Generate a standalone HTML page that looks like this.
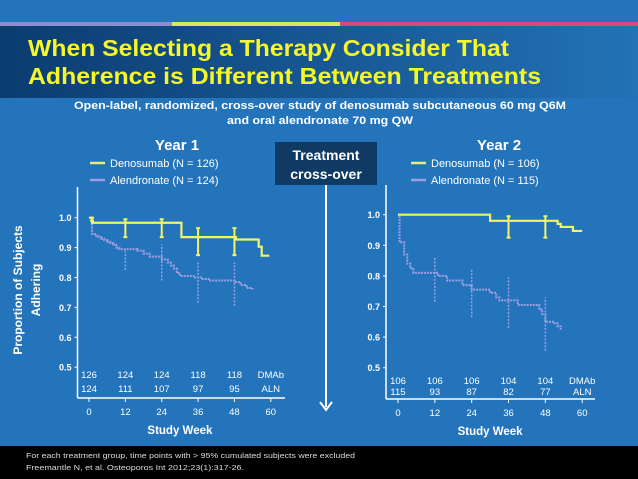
<!DOCTYPE html>
<html><head><meta charset="utf-8"><style>
html,body{margin:0;padding:0}
body{width:638px;height:479px;overflow:hidden;background:#2474bc;font-family:"Liberation Sans",sans-serif;position:relative}
</style></head><body>
<svg width="638" height="479" xmlns="http://www.w3.org/2000/svg" style="position:absolute;left:0;top:0" font-family="Liberation Sans, sans-serif">
<defs><linearGradient id="tg" x1="0" x2="1" y1="0" y2="0"><stop offset="0" stop-color="#0b3c70"/><stop offset="1" stop-color="#2372b6"/></linearGradient></defs>
<rect x="0" y="0" width="638" height="479" fill="#2474bc"/>
<rect x="0" y="22" width="172" height="4" fill="#8d8ed0"/>
<rect x="172" y="22" width="168" height="4" fill="#d9e85a"/>
<rect x="340" y="22" width="298" height="4" fill="#d9487a"/>
<rect x="0" y="26" width="638" height="72" fill="url(#tg)"/>
<text x="28" y="56" font-size="23" font-weight="bold" fill="#f4f72a" textLength="481" lengthAdjust="spacingAndGlyphs">When Selecting a Therapy Consider That</text>
<text x="28" y="84" font-size="23" font-weight="bold" fill="#f4f72a" textLength="513" lengthAdjust="spacingAndGlyphs">Adherence is Different Between Treatments</text>
<text x="74" y="109" font-size="11" font-weight="bold" fill="#fff" textLength="492" lengthAdjust="spacingAndGlyphs">Open-label, randomized, cross-over study of denosumab subcutaneous 60 mg Q6M</text>
<text x="227" y="124" font-size="11" font-weight="bold" fill="#fff" textLength="186" lengthAdjust="spacingAndGlyphs">and oral alendronate 70 mg QW</text>
<rect x="275" y="142" width="102" height="43" fill="#0e3a64"/>
<text x="326" y="160" font-size="14" font-weight="bold" fill="#fff" text-anchor="middle">Treatment</text>
<text x="326" y="179" font-size="14" font-weight="bold" fill="#fff" text-anchor="middle">cross-over</text>
<line x1="326" y1="185" x2="326" y2="407" stroke="#fff" stroke-width="2"/>
<path d="M320 402 L326 410 L332 402" fill="none" stroke="#fff" stroke-width="2"/>
<text transform="translate(22,290) rotate(-90)" font-size="12" font-weight="bold" fill="#fff" text-anchor="middle">Proportion of Subjects</text>
<text transform="translate(40,290) rotate(-90)" font-size="12" font-weight="bold" fill="#fff" text-anchor="middle">Adhering</text>
<rect x="0" y="446" width="638" height="33" fill="#000"/>
<text x="26" y="458" font-size="7.5" fill="#ddd" textLength="329" lengthAdjust="spacingAndGlyphs">For each treatment group, time points with &gt; 95% cumulated subjects were excluded</text>
<text x="26" y="470" font-size="7.5" fill="#ddd" textLength="218" lengthAdjust="spacingAndGlyphs">Freemantle N, et al. Osteoporos Int 2012;23(1):317-26.</text>
<g id="charts"></g>
</svg>
<script>
const ns="http://www.w3.org/2000/svg";
const root=document.getElementById('charts');
const xTicks=[0,12,24,36,48,60];
const yTicks=[0.5,0.6,0.7,0.8,0.9,1.0];
// Year 1
const y1DmabWeeks=[0,1,30.5,48.5,56,57,59.5];
const y1DmabVals=[1.0,0.983,0.935,0.927,0.903,0.873,0.873];
const y1AlnWeeks=[0,1,2,3,4,5,6,7,8,9,10,16,18,20,24,26,27,28,29,30,35,37,40,48,50,52,54];
const y1AlnVals=[1.0,0.945,0.94,0.935,0.93,0.925,0.92,0.915,0.91,0.9,0.895,0.89,0.88,0.87,0.86,0.85,0.84,0.83,0.815,0.805,0.8,0.795,0.79,0.785,0.775,0.765,0.76];
const y1DmabErrWeeks=[1,12,24,36,48];
const y1DmabErrLo=[0.99,0.935,0.935,0.875,0.875];
const y1DmabErrHi=[1.0,0.995,0.995,0.965,0.965];
const y1AlnErrWeeks=[12,24,36,48];
const y1AlnErrLo=[0.825,0.79,0.715,0.705];
const y1AlnErrHi=[0.895,0.91,0.855,0.85];
const y1RiskDmab=["126","124","124","118","118"];
const y1RiskAln=["124","111","107","97","95"];
// Year 2
const y2DmabWeeks=[0,30,52,53,57,60];
const y2DmabVals=[1.0,0.98,0.97,0.96,0.947,0.947];
const y2AlnWeeks=[0,0.5,2,3,4,5,13,16,21,24,30,32,33,39,46,47,48,51,52,53];
const y2AlnVals=[1.0,0.91,0.87,0.84,0.825,0.81,0.8,0.785,0.77,0.755,0.745,0.73,0.72,0.705,0.69,0.675,0.65,0.645,0.635,0.625];
const y2DmabErrWeeks=[36,48];
const y2DmabErrLo=[0.925,0.925];
const y2DmabErrHi=[0.995,0.995];
const y2AlnErrWeeks=[12,24,36,48];
const y2AlnErrLo=[0.715,0.665,0.63,0.555];
const y2AlnErrHi=[0.86,0.825,0.795,0.73];
const y2RiskDmab=["106","106","106","104","104"];
const y2RiskAln=["115","93","87","82","77"];

function mk(tag,attrs,parent){const e=document.createElementNS(ns,tag);for(const k in attrs)e.setAttribute(k,attrs[k]);(parent||root).appendChild(e);return e;}
function txt(s,attrs){const e=mk('text',attrs);e.textContent=s;return e;}

function chart(cfg){
  const g=mk('g',{});
  
  
  const X=w=>cfg.x0+w*cfg.xs;
  const Y=v=>cfg.y1+(1-v)*cfg.ys*100;
  const ya=mk('line',{x1:cfg.ax,y1:cfg.atop,x2:cfg.ax,y2:cfg.ab,stroke:'#fff','stroke-width':1.5},g);
  
  const xa=mk('line',{x1:cfg.ax,y1:cfg.ab,x2:cfg.axr,y2:cfg.ab,stroke:'#fff','stroke-width':1.5},g);
  
  yTicks.forEach(t=>{
    mk('line',{x1:cfg.ax-3,y1:Y(t),x2:cfg.ax,y2:Y(t),stroke:'#fff'},g);
    const l=txt(t.toFixed(1),{x:cfg.ax-6,y:Y(t)+3.5,'font-size':9,'font-weight':'bold',fill:'#fff','text-anchor':'end'});
    
  });
  xTicks.forEach(t=>{
    mk('line',{x1:X(t),y1:cfg.ab,x2:X(t),y2:cfg.ab+4,stroke:'#fff'},g);
    const l=txt(String(t),{x:X(t),y:cfg.ab+17,'font-size':9.5,fill:'#fff','text-anchor':'middle'});
    
  });
  const xt=txt('Study Week',{x:X(30),y:cfg.ab+36,'font-size':11.5,'font-weight':'bold',fill:'#fff','text-anchor':'middle'});
  
  cfg.rd.forEach((s,i)=>{const l=txt(s,{x:X(xTicks[i]),y:cfg.r1,'font-size':9.5,fill:'#fff','text-anchor':'middle'});});
  cfg.ra.forEach((s,i)=>{const l=txt(s,{x:X(xTicks[i]),y:cfg.r2,'font-size':9.5,fill:'#fff','text-anchor':'middle'});});
  txt('DMAb',{x:X(60),y:cfg.r1,'font-size':9.5,fill:'#fff','text-anchor':'middle'});
  txt('ALN',{x:X(60),y:cfg.r2,'font-size':9.5,fill:'#fff','text-anchor':'middle'});
  function step(ws,vs){let d='M'+X(ws[0])+' '+Y(vs[0]);for(let i=1;i<ws.length;i++){d+=' H'+X(ws[i])+' V'+Y(vs[i]);}return d;}
  const al=mk('path',{d:step(cfg.aw,cfg.av),fill:'none',stroke:'#9b9ee0','stroke-width':2,'stroke-dasharray':'2 1'},g);
  
  cfg.aew.forEach((w,i)=>{
    const e=mk('line',{x1:X(w),y1:Y(cfg.ael[i]),x2:X(w),y2:Y(cfg.aeh[i]),stroke:'#9b9ee0','stroke-width':1.5,'stroke-dasharray':'2 1.5'},g);
    
  });
  const dl=mk('path',{d:step(cfg.dw,cfg.dv),fill:'none',stroke:'#f0f56a','stroke-width':2.2},g);
  
  cfg.dew.forEach((w,i)=>{
    const e=mk('path',{d:`M${X(w)} ${Y(cfg.del[i])} V${Y(cfg.deh[i])} M${X(w)-2} ${Y(cfg.del[i])} h4 M${X(w)-2} ${Y(cfg.deh[i])} h4`,stroke:'#f0f56a','stroke-width':2,fill:'none'},g);
    
  });
  const t=txt(cfg.title,{x:cfg.tx,y:150,'font-size':15,'font-weight':'bold',fill:'#fff','text-anchor':'middle'});
  
  mk('line',{x1:cfg.lx,y1:163,x2:cfg.lx+15,y2:163,stroke:'#e6ef7a','stroke-width':2.5},g);
  mk('line',{x1:cfg.lx,y1:180,x2:cfg.lx+15,y2:180,stroke:'#9b9ee0','stroke-width':2.5},g);
  const l1=txt(cfg.leg1,{x:cfg.lx+20,y:167,'font-size':11,fill:'#fff'});
  const l2=txt(cfg.leg2,{x:cfg.lx+20,y:184,'font-size':11,fill:'#fff'});
}
chart({name:'year-1-chart',x0:89,xs:3.03,y1:217.7,ys:2.99,ax:77.5,axr:285,atop:187,ab:398,r1:378,r2:392,
  rd:y1RiskDmab,ra:y1RiskAln,aw:y1AlnWeeks,av:y1AlnVals,aew:y1AlnErrWeeks,ael:y1AlnErrLo,aeh:y1AlnErrHi,
  dw:y1DmabWeeks,dv:y1DmabVals,dew:y1DmabErrWeeks,del:y1DmabErrLo,deh:y1DmabErrHi,
  title:'Year 1',tx:177,lx:90,leg1:'Denosumab (N = 126)',leg2:'Alendronate (N = 124)'});
chart({name:'year-2-chart',x0:398,xs:3.07,y1:214.7,ys:3.06,ax:386,axr:595,atop:185,ab:399,r1:384,r2:395,
  rd:y2RiskDmab,ra:y2RiskAln,aw:y2AlnWeeks,av:y2AlnVals,aew:y2AlnErrWeeks,ael:y2AlnErrLo,aeh:y2AlnErrHi,
  dw:y2DmabWeeks,dv:y2DmabVals,dew:y2DmabErrWeeks,del:y2DmabErrLo,deh:y2DmabErrHi,
  title:'Year 2',tx:499,lx:411,leg1:'Denosumab (N = 106)',leg2:'Alendronate (N = 115)'});
</script>
</body></html>
